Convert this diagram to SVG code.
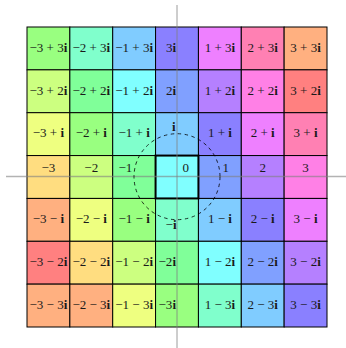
<svg xmlns="http://www.w3.org/2000/svg" width="346" height="348" viewBox="0 0 346 348">
<style>
rect{stroke:#000;stroke-width:1}
text{font-family:"Liberation Serif","DejaVu Serif",serif;font-size:13px;fill:#1a1a1a;text-anchor:middle}
.b{font-weight:bold}
.e{text-anchor:end}
.s{text-anchor:start}
.R{fill:#ff8080}.O{fill:#ffb080}.LO{fill:#ffdd80}.Y{fill:#eeff80}.YG{fill:#ccff80}.G1{fill:#99ff80}.G2{fill:#80ff99}.AQ{fill:#80ffcc}.CY{fill:#80ffff}.SK{fill:#80ccff}.BL{fill:#80a0ff}.BP{fill:#8a80ff}.PU{fill:#b580ff}.MA{fill:#ee80ff}.PM{fill:#ff80e6}.PK{fill:#ff80b3}
.ax{stroke:#808080;stroke-opacity:0.6;stroke-width:1.3;fill:none}
.circ{stroke:#000;stroke-width:0.8;stroke-dasharray:3.5 3.5;fill:none}
</style>
<g id="cells">
<!-- row y=3 -->
<g id="n_m3_p3"><rect class="G1" x="27" y="27" width="42.86" height="42.86"/><text x="48.43" y="51.6">−3 + 3<tspan class="b">i</tspan></text></g>
<g id="n_m2_p3"><rect class="AQ" x="69.86" y="27" width="42.86" height="42.86"/><text x="91.29" y="51.6">−2 + 3<tspan class="b">i</tspan></text></g>
<g id="n_m1_p3"><rect class="SK" x="112.71" y="27" width="42.86" height="42.86"/><text x="134.14" y="51.6">−1 + 3<tspan class="b">i</tspan></text></g>
<g id="n_0_p3"><rect class="BP" x="155.57" y="27" width="42.86" height="42.86"/><text class="e" x="176" y="51.6">3<tspan class="b">i</tspan></text></g>
<g id="n_p1_p3"><rect class="MA" x="198.43" y="27" width="42.86" height="42.86"/><text x="219.86" y="51.6">1 + 3<tspan class="b">i</tspan></text></g>
<g id="n_p2_p3"><rect class="PK" x="241.29" y="27" width="42.86" height="42.86"/><text x="262.71" y="51.6">2 + 3<tspan class="b">i</tspan></text></g>
<g id="n_p3_p3"><rect class="O" x="284.14" y="27" width="42.86" height="42.86"/><text x="305.57" y="51.6">3 + 3<tspan class="b">i</tspan></text></g>
<!-- row y=2 -->
<g id="n_m3_p2"><rect class="YG" x="27" y="69.86" width="42.86" height="42.86"/><text x="48.43" y="94.5">−3 + 2<tspan class="b">i</tspan></text></g>
<g id="n_m2_p2"><rect class="G2" x="69.86" y="69.86" width="42.86" height="42.86"/><text x="91.29" y="94.5">−2 + 2<tspan class="b">i</tspan></text></g>
<g id="n_m1_p2"><rect class="CY" x="112.71" y="69.86" width="42.86" height="42.86"/><text x="134.14" y="94.5">−1 + 2<tspan class="b">i</tspan></text></g>
<g id="n_0_p2"><rect class="BL" x="155.57" y="69.86" width="42.86" height="42.86"/><text class="e" x="176" y="94.5">2<tspan class="b">i</tspan></text></g>
<g id="n_p1_p2"><rect class="PU" x="198.43" y="69.86" width="42.86" height="42.86"/><text x="219.86" y="94.5">1 + 2<tspan class="b">i</tspan></text></g>
<g id="n_p2_p2"><rect class="PM" x="241.29" y="69.86" width="42.86" height="42.86"/><text x="262.71" y="94.5">2 + 2<tspan class="b">i</tspan></text></g>
<g id="n_p3_p2"><rect class="R" x="284.14" y="69.86" width="42.86" height="42.86"/><text x="305.57" y="94.5">3 + 2<tspan class="b">i</tspan></text></g>
<!-- row y=1 -->
<g id="n_m3_p1"><rect class="Y" x="27" y="112.71" width="42.86" height="42.86"/><text x="48.43" y="137.3">−3 + <tspan class="b">i</tspan></text></g>
<g id="n_m2_p1"><rect class="G1" x="69.86" y="112.71" width="42.86" height="42.86"/><text x="91.29" y="137.3">−2 + <tspan class="b">i</tspan></text></g>
<g id="n_m1_p1"><rect class="AQ" x="112.71" y="112.71" width="42.86" height="42.86"/><text x="134.14" y="137.3">−1 + <tspan class="b">i</tspan></text></g>
<g id="n_0_p1"><rect class="SK" x="155.57" y="112.71" width="42.86" height="42.86"/><text class="e b" x="175.5" y="130.5">i</text></g>
<g id="n_p1_p1"><rect class="BP" x="198.43" y="112.71" width="42.86" height="42.86"/><text x="219.86" y="137.3">1 + <tspan class="b">i</tspan></text></g>
<g id="n_p2_p1"><rect class="MA" x="241.29" y="112.71" width="42.86" height="42.86"/><text x="262.71" y="137.3">2 + <tspan class="b">i</tspan></text></g>
<g id="n_p3_p1"><rect class="PK" x="284.14" y="112.71" width="42.86" height="42.86"/><text x="305.57" y="137.3">3 + <tspan class="b">i</tspan></text></g>
<!-- row y=0 -->
<g id="n_m3_0"><rect class="LO" x="27" y="155.57" width="42.86" height="42.86"/><text x="48.43" y="171.5">−3</text></g>
<g id="n_m2_0"><rect class="YG" x="69.86" y="155.57" width="42.86" height="42.86"/><text x="91.29" y="171.5">−2</text></g>
<g id="n_m1_0"><rect class="G2" x="112.71" y="155.57" width="42.86" height="42.86"/><text x="125.3" y="171.5">−1</text></g>
<g id="n_p1_0"><rect class="BL" x="198.43" y="155.57" width="42.86" height="42.86"/><text x="225.7" y="171.5">1</text></g>
<g id="n_p2_0"><rect class="PU" x="241.29" y="155.57" width="42.86" height="42.86"/><text x="262.71" y="171.5">2</text></g>
<g id="n_p3_0"><rect class="PM" x="284.14" y="155.57" width="42.86" height="42.86"/><text x="305.57" y="171.5">3</text></g>
<!-- row y=-1 -->
<g id="n_m3_m1"><rect class="O" x="27" y="198.43" width="42.86" height="42.86"/><text x="48.43" y="223.1">−3 − <tspan class="b">i</tspan></text></g>
<g id="n_m2_m1"><rect class="Y" x="69.86" y="198.43" width="42.86" height="42.86"/><text x="91.29" y="223.1">−2 − <tspan class="b">i</tspan></text></g>
<g id="n_m1_m1"><rect class="G1" x="112.71" y="198.43" width="42.86" height="42.86"/><text x="134.14" y="223.1">−1 − <tspan class="b">i</tspan></text></g>
<g id="n_0_m1"><rect class="AQ" x="155.57" y="198.43" width="42.86" height="42.86"/><text class="e" x="176.5" y="229">−<tspan class="b">i</tspan></text></g>
<g id="n_p1_m1"><rect class="SK" x="198.43" y="198.43" width="42.86" height="42.86"/><text x="219.86" y="223.1">1 − <tspan class="b">i</tspan></text></g>
<g id="n_p2_m1"><rect class="BP" x="241.29" y="198.43" width="42.86" height="42.86"/><text x="262.71" y="223.1">2 − <tspan class="b">i</tspan></text></g>
<g id="n_p3_m1"><rect class="MA" x="284.14" y="198.43" width="42.86" height="42.86"/><text x="305.57" y="223.1">3 − <tspan class="b">i</tspan></text></g>
<!-- row y=-2 -->
<g id="n_m3_m2"><rect class="R" x="27" y="241.29" width="42.86" height="42.86"/><text x="48.43" y="265.9">−3 − 2<tspan class="b">i</tspan></text></g>
<g id="n_m2_m2"><rect class="LO" x="69.86" y="241.29" width="42.86" height="42.86"/><text x="91.29" y="265.9">−2 − 2<tspan class="b">i</tspan></text></g>
<g id="n_m1_m2"><rect class="YG" x="112.71" y="241.29" width="42.86" height="42.86"/><text x="134.14" y="265.9">−1 − 2<tspan class="b">i</tspan></text></g>
<g id="n_0_m2"><rect class="G2" x="155.57" y="241.29" width="42.86" height="42.86"/><text class="e" x="176" y="265.9">−2<tspan class="b">i</tspan></text></g>
<g id="n_p1_m2"><rect class="CY" x="198.43" y="241.29" width="42.86" height="42.86"/><text x="219.86" y="265.9">1 − 2<tspan class="b">i</tspan></text></g>
<g id="n_p2_m2"><rect class="BL" x="241.29" y="241.29" width="42.86" height="42.86"/><text x="262.71" y="265.9">2 − 2<tspan class="b">i</tspan></text></g>
<g id="n_p3_m2"><rect class="PU" x="284.14" y="241.29" width="42.86" height="42.86"/><text x="305.57" y="265.9">3 − 2<tspan class="b">i</tspan></text></g>
<!-- row y=-3 -->
<g id="n_m3_m3"><rect class="O" x="27" y="284.14" width="42.86" height="42.86"/><text x="48.43" y="308.8">−3 − 3<tspan class="b">i</tspan></text></g>
<g id="n_m2_m3"><rect class="O" x="69.86" y="284.14" width="42.86" height="42.86"/><text x="91.29" y="308.8">−2 − 3<tspan class="b">i</tspan></text></g>
<g id="n_m1_m3"><rect class="Y" x="112.71" y="284.14" width="42.86" height="42.86"/><text x="134.14" y="308.8">−1 − 3<tspan class="b">i</tspan></text></g>
<g id="n_0_m3"><rect class="G1" x="155.57" y="284.14" width="42.86" height="42.86"/><text class="e" x="176" y="308.8">−3<tspan class="b">i</tspan></text></g>
<g id="n_p1_m3"><rect class="AQ" x="198.43" y="284.14" width="42.86" height="42.86"/><text x="219.86" y="308.8">1 − 3<tspan class="b">i</tspan></text></g>
<g id="n_p2_m3"><rect class="SK" x="241.29" y="284.14" width="42.86" height="42.86"/><text x="262.71" y="308.8">2 − 3<tspan class="b">i</tspan></text></g>
<g id="n_p3_m3"><rect class="BP" x="284.14" y="284.14" width="42.86" height="42.86"/><text x="305.57" y="308.8">3 − 3<tspan class="b">i</tspan></text></g>
<!-- origin -->
<g id="n_0_0"><rect class="CY" x="155.57" y="155.57" width="42.86" height="42.86" style="stroke-width:2"/><text class="s" x="182.5" y="171.5">0</text></g>
</g>
<g id="connectors">
<line class="ax" x1="6" y1="176.5" x2="346" y2="176.5"/>
<line class="ax" x1="177" y1="5" x2="177" y2="348"/>
<circle class="circ" cx="177" cy="176.7" r="43"/>
</g>
</svg>
